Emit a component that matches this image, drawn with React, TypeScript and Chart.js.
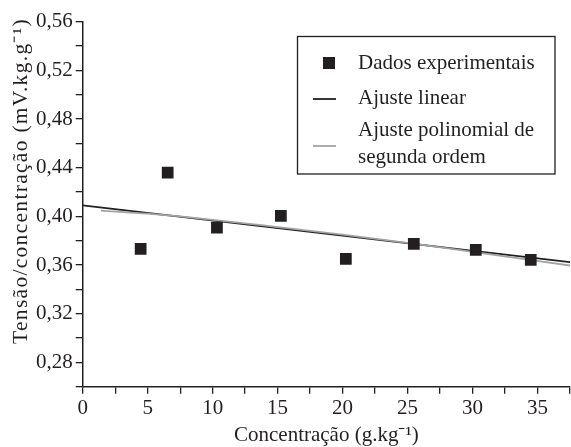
import React, { useEffect, useRef } from "react";
import { Chart, registerables } from "chart.js";

Chart.register(...registerables);

// Experimental data
const concentration = [4.46, 6.54, 10.33, 15.25, 20.25, 25.48, 30.25, 34.48];
const ratio = [0.3733, 0.436, 0.3908, 0.4004, 0.3651, 0.3774, 0.3725, 0.3643];

// Linear fit
const linearX = [0, 37.5];
const linearY = [0.409, 0.3624];

// Second-order polynomial fit
const polyX = [1.4, 5, 10, 15, 20, 25, 30, 37.5];
const polyY = [0.4048, 0.4022, 0.3972, 0.3912, 0.385, 0.3783, 0.3708, 0.3596];

const seriesLabels = ["Dados experimentais", "Ajuste linear", "Ajuste polinomial de\nsegunda ordem"];
const xTitle = "Concentração (g.kg⁻¹)";
const yTitle = "Tensão/concentração (mV.kg.g⁻¹)";

const INK = "#231f20";
const GRAY = "#a3a3a3";
const FONT = "'Liberation Serif', 'Times New Roman', serif";

const decorPlugin = {
  id: "decor",
  afterDraw(chart: any) {
    const ctx = chart.ctx as CanvasRenderingContext2D;
    ctx.save();
    ctx.fillStyle = INK;
    ctx.font = `21px ${FONT}`;
    // x title
    ctx.textAlign = "center";
    ctx.textBaseline = "middle";
    const ca = chart.chartArea;
    ctx.fillText(xTitle, (ca.left + ca.right) / 2, 435);
    // y title
    ctx.save();
    ctx.translate(21, 181);
    ctx.rotate(-Math.PI / 2);
    ctx.font = `21.5px ${FONT}`;
    (ctx as any).letterSpacing = "1.3px";
    ctx.fillText(yTitle, 0, 0);
    ctx.restore();

    // legend box
    ctx.strokeStyle = INK;
    ctx.lineWidth = 1.3;
    ctx.strokeRect(297.5, 36.5, 257.5, 137.5);
    const ds = chart.data.datasets;
    ctx.textAlign = "left";
    // entry 1: square marker
    ctx.fillStyle = ds[0].backgroundColor;
    ctx.fillRect(329 - 6, 63 - 6, 12, 12);
    ctx.fillStyle = INK;
    ctx.fillText(ds[0].label, 358, 63);
    // entry 2: black line
    ctx.strokeStyle = ds[1].borderColor;
    ctx.lineWidth = 1.8;
    ctx.beginPath();
    ctx.moveTo(313, 99);
    ctx.lineTo(336, 99);
    ctx.stroke();
    ctx.fillText(ds[1].label, 358, 98);
    // entry 3: gray line, two text lines
    ctx.strokeStyle = ds[2].borderColor;
    ctx.beginPath();
    ctx.moveTo(313, 146);
    ctx.lineTo(336, 146);
    ctx.stroke();
    const lines = String(ds[2].label).split("\n");
    lines.forEach((l, i) => ctx.fillText(l, 358, 130 + i * 27.5));
    ctx.restore();
  },
};

export default function App() {
  const ref = useRef<HTMLCanvasElement | null>(null);
  useEffect(() => {
    if (!ref.current) return;
    const chart = new Chart(ref.current, {
      type: "scatter",
      data: {
        datasets: [
          {
            label: seriesLabels[0],
            data: concentration.map((x, i) => ({ x, y: ratio[i] })),
            pointStyle: "rect",
            pointRadius: 8.3,
            backgroundColor: INK,
            borderColor: INK,
            borderWidth: 0,
            order: 0,
          },
          {
            label: seriesLabels[1],
            data: linearX.map((x, i) => ({ x, y: linearY[i] })),
            showLine: true,
            pointRadius: 0,
            borderColor: INK,
            borderWidth: 1.8,
            order: 2,
          },
          {
            label: seriesLabels[2],
            data: polyX.map((x, i) => ({ x, y: polyY[i] })),
            showLine: true,
            pointRadius: 0,
            borderColor: GRAY,
            borderWidth: 1.8,
            cubicInterpolationMode: "monotone",
            order: 1,
          },
        ],
      },
      options: {
        animation: false,
        responsive: false,
        layout: { autoPadding: false, padding: { top: 21.7, right: 1, left: 0, bottom: 0 } },
        plugins: { legend: { display: false }, tooltip: { enabled: false } },
        scales: {
          x: {
            type: "linear",
            min: 0,
            max: 37.5,
            afterFit: (s: any) => {
              s.height = 60.3;
              s.paddingLeft = 0;
              s.paddingRight = 0;
            },
            ticks: {
              stepSize: 2.5,
              autoSkip: false,
              maxRotation: 0,
              padding: 2,
              color: INK,
              font: { family: FONT, size: 21 },
              callback: (v: any) => (Math.abs(Number(v) % 5) < 1e-6 ? String(v) : ""),
            },
            grid: { drawOnChartArea: false, drawTicks: true, tickLength: 7, color: INK, lineWidth: 1.3 },
            border: { display: true, color: INK, width: 1.5 },
          },
          y: {
            min: 0.26,
            max: 0.56,
            afterFit: (s: any) => {
              s.width = 82.7;
              s.paddingTop = 0;
              s.paddingBottom = 0;
            },
            ticks: {
              stepSize: 0.02,
              autoSkip: false,
              padding: 3,
              color: INK,
              font: { family: FONT, size: 21 },
              callback: (v: any) => {
                const n = Math.round(Number(v) * 100);
                return n % 4 === 0 ? (n / 100).toFixed(2).replace(".", ",") : "";
              },
            },
            grid: { drawOnChartArea: false, drawTicks: true, tickLength: 7, color: INK, lineWidth: 1.3 },
            border: { display: true, color: INK, width: 1.5 },
          },
        },
      },
      plugins: [decorPlugin],
    });
    return () => chart.destroy();
  }, []);
  return (
    <div style={{ position: "fixed", left: 0, top: 0, width: 571, height: 447, background: "#fff" }}>
      <canvas ref={ref} width={571} height={447} style={{ display: "block" }} />
    </div>
  );
}
